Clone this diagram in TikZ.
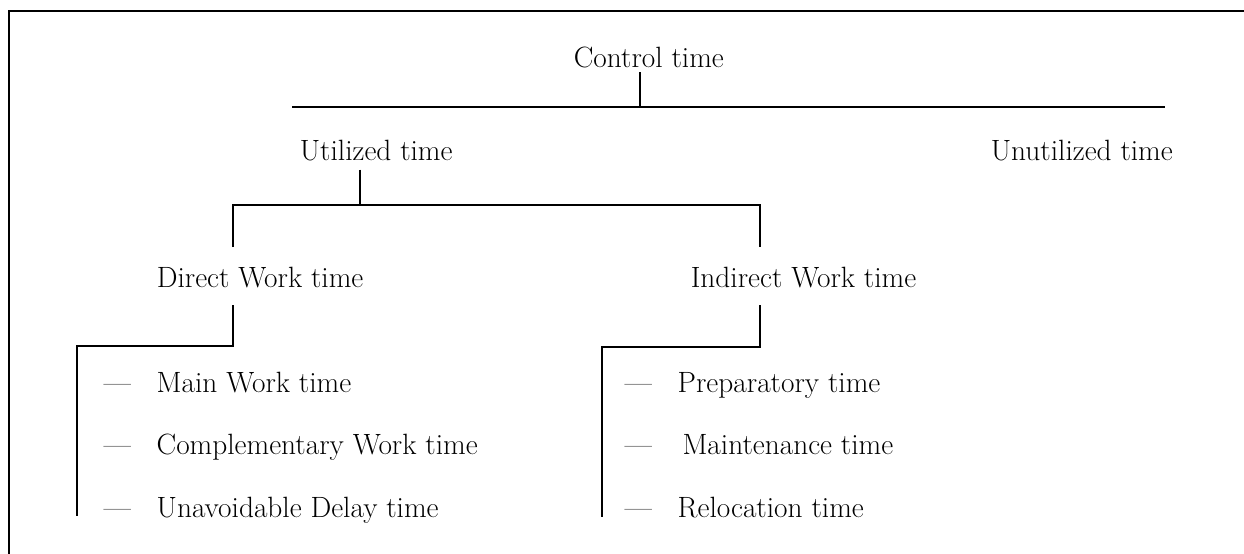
\documentclass[tikz,border=0pt]{standalone}
\usepackage{tikz}

\tikzset{
	lbl/.style={anchor=base west, inner sep=2pt, font=\fontsize{16.7}{20}\selectfont},
	tree/.style={line width=0.6pt}
}

\begin{document}
\begin{tikzpicture}[x=0.02cm, y=-0.02cm]
	\useasboundingbox (0,0) rectangle (1244,554);
	\draw[line width=0.9pt] (9,554) -- (9,11) -- (1244,11);
	% labels
	\node[lbl] (ctrl) at (570,68) {Control time};
	\node[lbl] (util) at (296,160) {Utilized time};
	\node[lbl] (unutil) at (987,160) {Unutilized time};
	\node[lbl] (direct) at (153,287) {Direct Work time};
	\node[lbl] (indirect) at (687,287) {Indirect Work time};
	\node[lbl] (mainwt) at (100,392) {\makebox[1.8em][l]{---}Main Work time};
	\node[lbl] (complwt) at (100,454) {\makebox[1.8em][l]{---}Complementary Work time};
	\node[lbl] (delay) at (100,517) {\makebox[1.8em][l]{---}Unavoidable Delay time};
	\node[lbl] (prep) at (621,392) {\makebox[1.8em][l]{---}Preparatory time};
	\node[lbl] (maint) at (621,454) {\makebox[1.8em][l]{---}\,Maintenance time};
	\node[lbl] (reloc) at (621,517) {\makebox[1.8em][l]{---}Relocation time};
	% joints
	\coordinate (ctrljoin) at (640,107);
	\coordinate (barL) at (292,107);
	\coordinate (barR) at (1165,107);
	\coordinate (utiljoin) at (360,205);
	\coordinate (dirup) at (233,247);
	\coordinate (indup) at (760,247);
	\coordinate (dirleg) at (77,346);
	\coordinate (dirend) at (77,516);
	\coordinate (indleg) at (602,347);
	\coordinate (indend) at (602,517);
	% connectors
	\draw[tree] (ctrl.south -| ctrljoin) -- (ctrljoin);
	\draw[tree] (barL) -- (barR);
	\draw[tree] ([yshift=-3]util.south -| utiljoin) -- (utiljoin);
	\draw[tree] (dirup) |- (utiljoin) -| (indup);
	\draw[tree] ([yshift=-8]direct.south -| dirup) |- (dirleg) -- (dirend);
	\draw[tree] ([yshift=-8]indirect.south -| indup) |- (indleg) -- (indend);
\end{tikzpicture}
\end{document}
